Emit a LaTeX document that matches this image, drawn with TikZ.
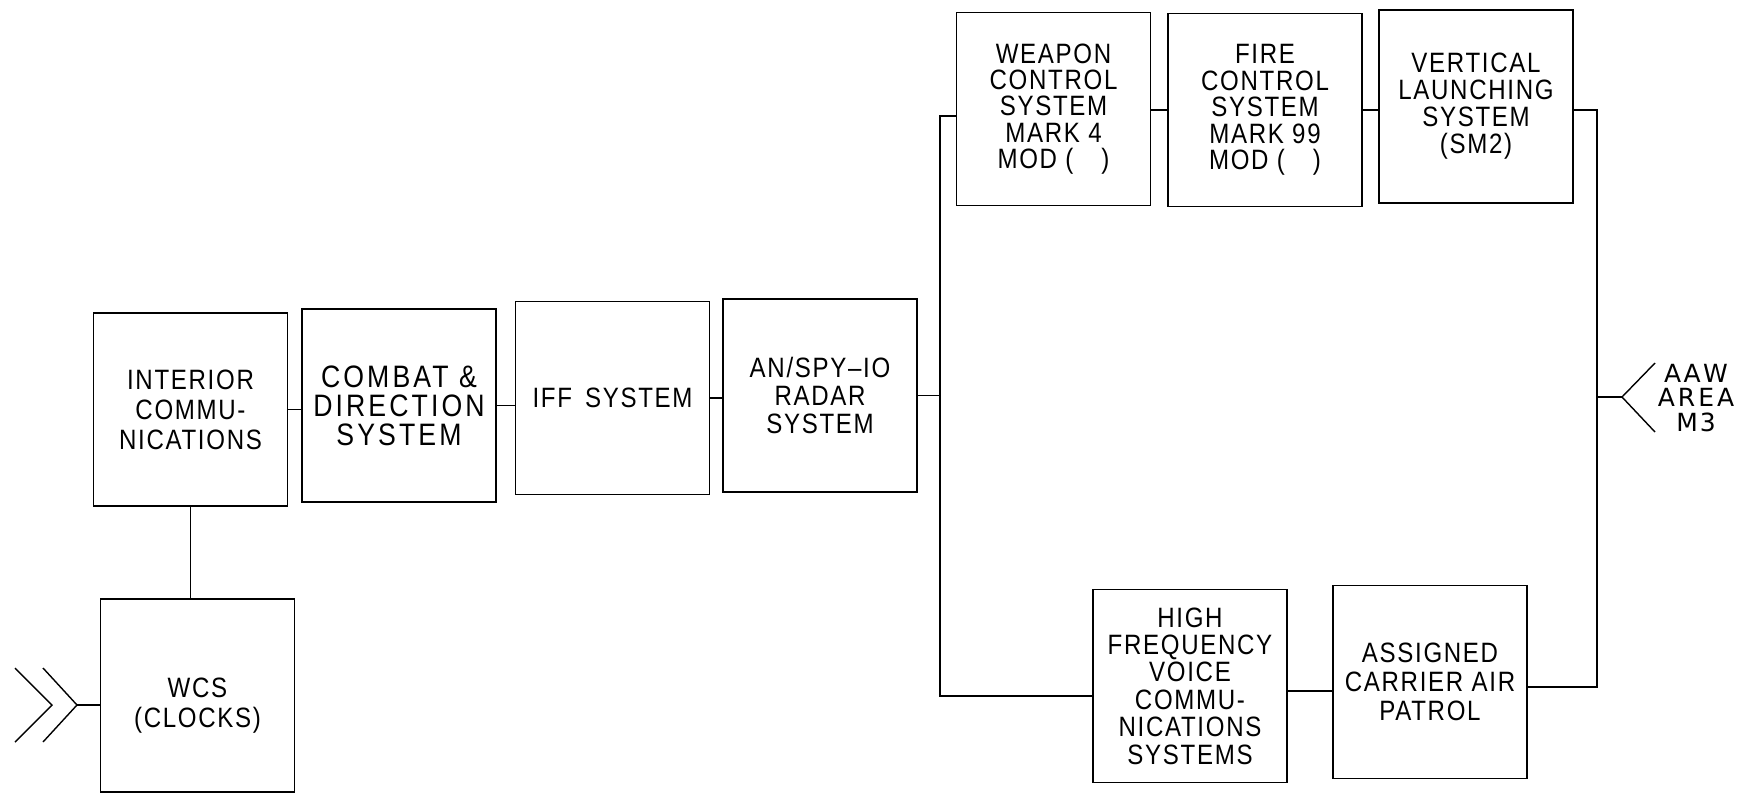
\documentclass[tikz,border=0pt]{standalone}
\usepackage{fontspec}
\setmainfont{Liberation Sans}[FakeStretch=0.86,LetterSpace=6]
\newfontfamily\widefont{DejaVu Sans}
\begin{document}
\begin{tikzpicture}[x=0.5pt,y=-0.5pt,line width=0.7pt,
  box/.style={draw,minimum width=97pt,minimum height=96.5pt,inner sep=0pt,align=center,
    font=\fontsize{14}{14}\selectfont},
  bigtext/.style={font=\fontsize{15.5}{14.5}\selectfont\addfontfeature{LetterSpace=10}},
  plain/.style={inner sep=0pt,align=center,font=\fontsize{14}{15}\selectfont}]
\useasboundingbox (0,0) rectangle (1742,794);

% boxes
\node[box,font=\fontsize{14}{15}\selectfont] (ic) at (190.5,409.5) {INTERIOR\\COMMU-\\NICATIONS};
\node[box,bigtext] (cd) at (399,405.5) {COMBAT \&\\DIRECTION\\SYSTEM};
\node[box] (iff) at (612.5,398) {IFF\, SYSTEM};
\node[box] (radar) at (820,395.5) {AN/SPY--IO\\RADAR\\SYSTEM};
\node[box] (wcs) at (197.5,695.5) {};
\node[plain] (wcstext) at ([yshift=-5pt]wcs.center) {WCS\\(CLOCKS)};
\node[box,font=\fontsize{14}{13.2}\selectfont] (weapon) at (1053.5,109) {WEAPON\\CONTROL\\SYSTEM\\MARK 4\\MOD (\quad)};
\node[box,font=\fontsize{14}{13.2}\selectfont] (fire) at (1265,110) {FIRE\\CONTROL\\SYSTEM\\MARK 99\\MOD (\quad)};
\node[box,font=\fontsize{14}{13.5}\selectfont] (vls) at (1476,106.5) {VERTICAL\\LAUNCHING\\SYSTEM\\(SM2)};
\node[box,font=\fontsize{14}{13.7}\selectfont] (hf) at (1190,686) {HIGH\\FREQUENCY\\VOICE\\COMMU-\\NICATIONS\\SYSTEMS};
\node[box,font=\fontsize{14}{14.5}\selectfont] (acap) at (1430,682) {ASSIGNED\\CARRIER AIR\\PATROL};

% chain
\draw (ic.east) -- (ic.east -| cd.west);
\draw (cd.east) -- (cd.east -| iff.west);
\draw (iff.east) -- (iff.east -| radar.west);
\draw (ic.south) -- (ic.south |- wcs.north);

% left trunk
\coordinate (tl1) at (940,116);
\coordinate (tl2) at (940,696);
\draw (radar.east) -- (radar.east -| tl1);
\draw (weapon.west |- tl1) -- (tl1) -- (tl2) -- (tl2 -| hf.west);

% top row
\draw (weapon.east |- fire.west) -- (fire.west);
\draw (fire.east) -- (fire.east -| vls.west);

% bottom row
\coordinate (hb) at (1190,691);
\draw (hb -| hf.east) -- (hb -| acap.west);

% right trunk
\coordinate (tr1) at (1597,110);
\coordinate (tr2) at (1597,687);
\draw (vls.east |- tr1) -- (tr1) -- (tr2) -- (tr2 -| acap.east);

% antenna right
\coordinate (ant) at (1622,397);
\draw (ant -| tr1) -- (ant);
\draw (1655,363) -- (ant) -- (1655,432);
\node[inner sep=0pt,align=center,font=\widefont\fontsize{12.5}{12.3}\selectfont] (aaw) at (1696,398)
  {A\kern1.2pt A\kern1.2pt W\\A\kern1.5pt R\kern1.5pt E\kern1.5pt A\\M\kern1pt 3};

% input chevrons left
\coordinate (tipA) at (52,705);
\coordinate (tipB) at (77,705);
\draw (15,668) -- (tipA) -- (15,742);
\draw (43,668) -- (tipB) -- (43,742);
\draw (tipB) -- (tipB -| wcs.west);
\end{tikzpicture}
\end{document}
